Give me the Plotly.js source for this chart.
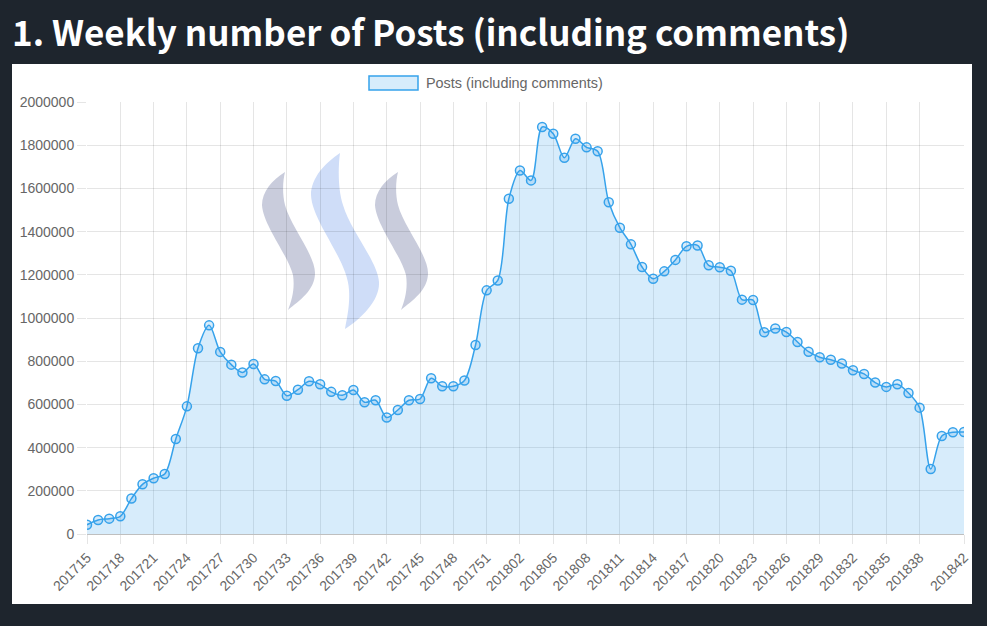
<!DOCTYPE html>
<html>
<head>
<meta charset="utf-8">
<script src="https://cdn.plot.ly/plotly-3.0.1.min.js"></script>
<style>
  html, body { margin: 0; padding: 0; background: #1e252d; }
  #chart { width: 987px; height: 626px; }
</style>
</head>
<body>
<div id="chart"></div>
<script>
// ---- data ----
const weeks = [
  '201715','201716','201717','201718','201719','201720','201721','201722','201723','201724',
  '201725','201726','201727','201728','201729','201730','201731','201732','201733','201734',
  '201735','201736','201737','201738','201739','201740','201741','201742','201743','201744',
  '201745','201746','201747','201748','201749','201750','201751','201752',
  '201801','201802','201803','201804','201805','201806','201807','201808','201809','201810',
  '201811','201812','201813','201814','201815','201816','201817','201818','201819','201820',
  '201821','201822','201823','201824','201825','201826','201827','201828','201829','201830',
  '201831','201832','201833','201834','201835','201836','201837','201838','201839','201840',
  '201841','201842'
];
const posts = [
  43000, 65000, 71000, 82000, 164000, 230000, 258000, 278000, 440000, 591000,
  860000, 966000, 843000, 784000, 748000, 787000, 716000, 708000, 640000, 668000,
  707000, 693000, 658000, 642000, 667000, 610000, 619000, 539000, 574000, 619000,
  625000, 721000, 684000, 684000, 711000, 875000, 1128000, 1174000,
  1552000, 1683000, 1637000, 1884000, 1853000, 1742000, 1830000, 1790000, 1772000, 1536000,
  1418000, 1341000, 1236000, 1182000, 1216000, 1269000, 1332000, 1336000, 1244000, 1235000,
  1219000, 1085000, 1083000, 934000, 951000, 935000, 889000, 844000, 818000, 807000,
  789000, 758000, 741000, 701000, 681000, 693000, 653000, 585000, 301000, 454000,
  471000, 472000
];
const shownTicks = [
  '201715','201718','201721','201724','201727','201730','201733','201736','201739',
  '201742','201745','201748','201751','201802','201805','201808','201811','201814',
  '201817','201820','201823','201826','201829','201832','201835','201838','201842'
];
const seriesName = 'Posts (including comments)';
const chartTitle = '1. Weekly number of Posts (including comments)';

// ---- layout geometry (pixels) ----
const W = 987, H = 626;
const M = { l: 87, r: 23, t: 102, b: 92 };
const PW = W - M.l - M.r, PH = H - M.t - M.b;
const px = x => (x - M.l) / PW;
const py = y => (H - M.b - y) / PH;
function pathToPaper(d) {
  return d.replace(/(-?\d+(?:\.\d+)?),(-?\d+(?:\.\d+)?)/g,
    (m, a, b) => px(+a).toFixed(5) + ',' + py(+b).toFixed(5));
}
function shiftPath(d, dx) {
  return d.replace(/(-?\d+(?:\.\d+)?),(-?\d+(?:\.\d+)?)/g,
    (m, a, b) => (+a + dx) + ',' + b);
}

const blue = '#36a2eb';
const fillBlue = 'rgba(54,162,235,0.2)';
const tickFont = { family: 'Liberation Sans, Arial, sans-serif', size: 14, color: '#666666' };
const grid = 'rgba(0,0,0,0.1)';

const leftSwoosh = 'M285,172 C272,180 262,192 262,205 C263,225 288,255 293,275 C295,288 292,300 288,310 C300,300 315,290 315,273 C315,255 290,225 285,205 C282,193 283,180 285,172 Z';
const midSwoosh = 'M340,153 C325,163 311,178 311,195 C312,222 348,260 349,290 C350,305 347,318 345,329 C362,318 380,300 379,282 C378,262 350,230 343,205 C338,190 338,168 340,153 Z';
const rightSwoosh = shiftPath(leftSwoosh, 113);

const trace = {
  type: 'scatter',
  mode: 'lines+markers',
  x: weeks,
  y: posts,
  name: seriesName,
  line: { color: blue, width: 1.5, shape: 'spline', smoothing: 0.9 },
  fill: 'tozeroy',
  fillcolor: fillBlue,
  marker: { symbol: 'circle', size: 9, color: fillBlue, line: { color: blue, width: 1.5 } },
  showlegend: false,
  hoverinfo: 'skip'
};

const layout = {
  width: W, height: H,
  margin: M,
  paper_bgcolor: '#1e252d',
  plot_bgcolor: '#ffffff',
  showlegend: false,
  hovermode: false,
  title: {
    text: '<b>' + chartTitle + '</b>',
    font: { family: 'Noto Sans CJK JP, Source Sans Pro, sans-serif', size: 35, color: '#ffffff' },
    xref: 'container', yref: 'container',
    x: 12 / W, xanchor: 'left',
    y: 1 - 34 / H, yanchor: 'middle'
  },
  xaxis: {
    type: 'category',
    range: [0, weeks.length - 1],
    tickmode: 'array',
    tickvals: shownTicks,
    ticktext: shownTicks,
    tickangle: -45,
    tickfont: tickFont,
    showgrid: true, gridcolor: grid, gridwidth: 1,
    ticks: 'outside', ticklen: 9, tickcolor: grid, tickwidth: 1,
    showline: false, zeroline: false,
    fixedrange: true
  },
  yaxis: {
    range: [0, 2000000],
    tick0: 0, dtick: 200000,
    tickformat: 'd',
    tickfont: tickFont,
    showgrid: true, gridcolor: grid, gridwidth: 1,
    zeroline: true, zerolinecolor: 'rgba(0,0,0,0.25)', zerolinewidth: 1,
    ticks: 'outside', ticklen: 9, tickcolor: grid, tickwidth: 1,
    showline: false,
    fixedrange: true
  },
  shapes: [
    { type: 'rect', xref: 'paper', yref: 'paper', layer: 'below',
      x0: px(12), x1: px(972), y0: py(604), y1: py(64),
      fillcolor: '#ffffff', line: { width: 0 } },
    { type: 'path', xref: 'paper', yref: 'paper', layer: 'below',
      path: pathToPaper(leftSwoosh), fillcolor: '#c9ccdc', line: { width: 0 } },
    { type: 'path', xref: 'paper', yref: 'paper', layer: 'below',
      path: pathToPaper(midSwoosh), fillcolor: '#cfddf8', line: { width: 0 } },
    { type: 'path', xref: 'paper', yref: 'paper', layer: 'below',
      path: pathToPaper(rightSwoosh), fillcolor: '#c9ccdc', line: { width: 0 } },
    // legend swatch
    { type: 'rect', xref: 'paper', yref: 'paper', layer: 'above',
      x0: px(369), x1: px(418), y0: py(90), y1: py(76),
      fillcolor: fillBlue, line: { color: blue, width: 1.5 } }
  ],
  annotations: [
    { xref: 'paper', yref: 'paper', x: px(424), y: py(83),
      xanchor: 'left', yanchor: 'middle', showarrow: false,
      text: seriesName,
      font: { family: 'Liberation Sans, Arial, sans-serif', size: 14.4, color: '#666666' } }
  ]
};

Plotly.newPlot('chart', [trace], layout, { staticPlot: true, displayModeBar: false });
</script>
</body>
</html>
